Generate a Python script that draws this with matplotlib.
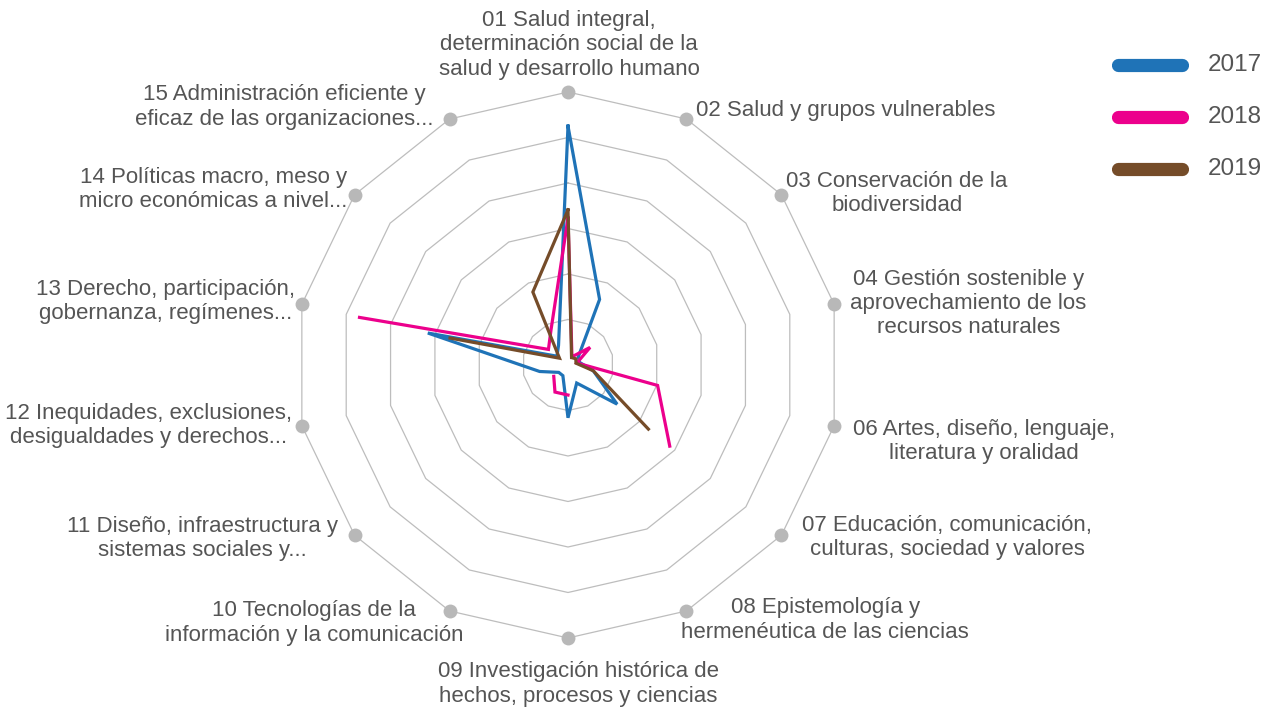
import numpy as np
import matplotlib.pyplot as plt
from matplotlib.lines import Line2D

plt.rcParams['font.family'] = ['Liberation Sans', 'DejaVu Sans']

# Categories (clockwise from top)
categories = [
    "01 Salud integral,\ndeterminación social de la\nsalud y desarrollo humano",
    "02 Salud y grupos vulnerables",
    "03 Conservación de la\nbiodiversidad",
    "04 Gestión sostenible y\naprovechamiento de los\nrecursos naturales",
    "06 Artes, diseño, lenguaje,\nliteratura y oralidad",
    "07 Educación, comunicación,\nculturas, sociedad y valores",
    "08 Epistemología y\nhermenéutica de las ciencias",
    "09 Investigación histórica de\nhechos, procesos y ciencias",
    "10 Tecnologías de la\ninformación y la comunicación",
    "11 Diseño, infraestructura y\nsistemas sociales y...",
    "12 Inequidades, exclusiones,\ndesigualdades y derechos...",
    "13 Derecho, participación,\ngobernanza, regímenes...",
    "14 Políticas macro, meso y\nmicro económicas a nivel...",
    "15 Administración eficiente y\neficaz de las organizaciones...",
]

nan = np.nan
values_2017 = [52.5, 16.0, 2.9, 2.6, 5.7, 13.8, 4.4, 11.6, 2.6, 2.6, 6.4, 31.6, 3.1, 4.8]
values_2018 = [32.3, 2.0, 6.2, 2.0, 20.2, 28.6, nan, 6.6, 6.6, 4.0, nan, 47.0, 5.5, 8.6]
values_2019 = [34.1, 1.8, 2.2, 1.8, 5.7, 22.6, nan, nan, nan, nan, nan, 26.6, 2.4, 17.8]

series_names = ["2017", "2018", "2019"]
series_colors = ["#1f73b7", "#ec008c", "#754c29"]

grid_levels = [10, 20, 30, 40, 50, 60]
r_max = 60

# label placement: (ha, dx, dy) in pixels relative to the outer vertex
label_pos = [
    ("center", 1, 47), ("left", 10, 9), ("left", 5, 1), ("left", 16, 1),
    ("left", 19, -16), ("left", 21, -2), ("left", -5, -9), ("center", 10, -46),
    ("right", 14, -12), ("right", -17, -3), ("right", -10, 0), ("right", -7, 3),
    ("right", -7, 5), ("right", -16, 12),
]

W, H = 1276, 708
fig = plt.figure(figsize=(W / 100, H / 100), dpi=100)
cx, cy, R = 568, 365, 273
ax = fig.add_axes([(cx - R) / W, (H - cy - R) / H, 2 * R / W, 2 * R / H], polar=True)
ax.set_theta_zero_location("N")
ax.set_theta_direction(-1)
ax.set_ylim(0, r_max)
ax.grid(False)
ax.spines["polar"].set_visible(False)
ax.set_xticks([])
ax.set_yticks([])
ax.patch.set_alpha(0)

n = len(categories)
angles = np.arange(n) * 2 * np.pi / n
closed = np.append(angles, angles[0])

# polygon grid
for lvl in grid_levels:
    ax.plot(closed, [lvl] * (n + 1), color="#bdbdbd", lw=0.9, zorder=1)

# series
for name, vals, col in zip(series_names, [values_2017, values_2018, values_2019], series_colors):
    v = np.append(vals, vals[0])
    ax.plot(closed, v, color=col, lw=2.3, zorder=3, solid_joinstyle="miter")

# outer dots
ax.plot(angles, [r_max] * n, "o", color="#b8b8b8", ms=10, mec="none", zorder=4, clip_on=False)

# labels
for ang, lab, (ha, dx, dy) in zip(angles, categories, label_pos):
    ax.annotate(lab, xy=(ang, r_max), xytext=(dx, dy), textcoords="offset pixels",
                ha=ha, va="center", multialignment="center", linespacing=1.2,
                fontsize=16, color="#555555", annotation_clip=False)

# legend
for i, (name, col) in enumerate(zip(series_names, series_colors)):
    y = 1 - (65 + 52 * i) / H
    fig.add_artist(Line2D([1118 / W, 1182 / W], [y, y], color=col, lw=9.5,
                          solid_capstyle="round"))
    fig.text(1208 / W, y, name, fontsize=17.5, color="#555555", va="center", ha="left")

fig.savefig("out.png", dpi=100)
